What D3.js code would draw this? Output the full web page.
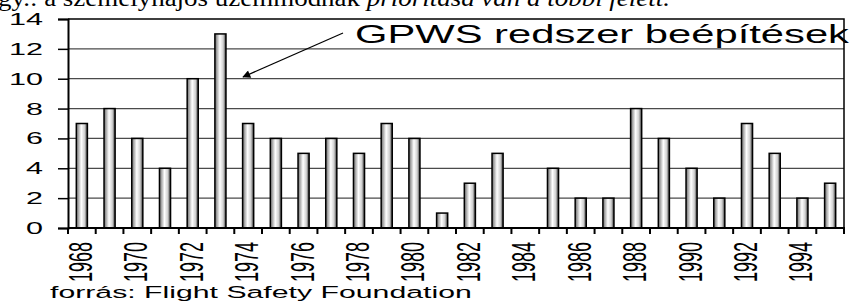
<!DOCTYPE html>
<html>
<head>
<meta charset="utf-8">
<script src="https://cdn.jsdelivr.net/npm/d3@7"></script>
<style>
  html, body { margin: 0; padding: 0; background: #fff; }
  svg { display: block; }
</style>
</head>
<body>
<svg id="chart" width="855" height="303"></svg>
<script>
// GPWS installs per year
const years = d3.range(1968, 1996);
const values = [7, 8, 6, 4, 10, 13, 7, 6, 5, 6, 5, 7, 6, 1, 3, 5, 0, 4, 2, 2, 8, 6, 4, 2, 7, 5, 2, 3];
const yTicks = [0, 2, 4, 6, 8, 10, 12, 14];
const xLabels = d3.range(1968, 1996, 2);
const headerUpright = "gy.: a személyhajós üzemmódnak ";
const headerItalic = "prioritása van a többi felett.";
const noteText = "GPWS redszer beépítések";
const sourceText = "forrás: Flight Safety Foundation";

const svg = d3.select("#chart");
const sans = "Liberation Sans, Arial, sans-serif";
const stretch = 1.8; // the original picture is squeezed horizontally

const plotLeft = 68, plotRight = 844, plotTop = 19, plotBottom = 228;

const x = d3.scaleBand()
  .domain(years)
  .range([plotLeft, plotRight])
  .paddingInner(0.6)
  .paddingOuter(0.3);

const y = d3.scaleLinear().domain([0, 14]).range([plotBottom, plotTop]);

const step = x.step();

// bar gradient (cylinder look)
const defs = svg.append("defs");
const grad = defs.append("linearGradient")
  .attr("id", "barGrad").attr("x1", "0%").attr("x2", "100%");
grad.append("stop").attr("offset", "0%").attr("stop-color", "#6a6a6a");
grad.append("stop").attr("offset", "45%").attr("stop-color", "#ffffff");
grad.append("stop").attr("offset", "75%").attr("stop-color", "#d0d0d0");
grad.append("stop").attr("offset", "100%").attr("stop-color", "#3a3a3a");

// header text, clipped at the top like in the source page
const header = svg.append("text")
  .attr("x", -2).attr("y", 6)
  .attr("textLength", 672)
  .attr("lengthAdjust", "spacingAndGlyphs")
  .style("font-family", "Liberation Serif, Times New Roman, serif")
  .style("font-size", "23px");
header.append("tspan").text(headerUpright);
header.append("tspan").style("font-style", "italic").text(headerItalic);

// gridlines
svg.append("g")
  .selectAll("line")
  .data(yTicks.filter((d) => d > 0 && d < 14))
  .join("line")
  .attr("x1", plotLeft).attr("x2", plotRight)
  .attr("y1", (d) => y(d)).attr("y2", (d) => y(d))
  .attr("stroke", "#4a4a4a").attr("stroke-width", 1.2);

// top and right border
svg.append("path")
  .attr("d", `M${plotLeft},${y(14)}H${plotRight}V${plotBottom}`)
  .attr("fill", "none").attr("stroke", "#000").attr("stroke-width", 1.5);

// bars
svg.append("g")
  .selectAll("rect")
  .data(years.map((yr, i) => ({ yr, v: values[i] })).filter((d) => d.v > 0))
  .join("rect")
  .attr("x", (d) => x(d.yr))
  .attr("y", (d) => y(d.v))
  .attr("width", x.bandwidth())
  .attr("height", (d) => plotBottom - y(d.v))
  .attr("fill", "url(#barGrad)")
  .attr("stroke", "#000").attr("stroke-width", 1.5);

// y axis
const yAxis = svg.append("g").attr("transform", `translate(${plotLeft},0)`)
  .call(d3.axisLeft(y).tickValues(yTicks).tickSize(10).tickFormat(""));
yAxis.select(".domain").attr("stroke-width", 2);
yAxis.selectAll(".tick line").attr("stroke-width", 1.5);

svg.append("g")
  .selectAll("text")
  .data(yTicks)
  .join("text")
  .attr("transform", (d) => `translate(43,${y(d) + 6}) scale(1.85,1)`)
  .attr("text-anchor", "end")
  .style("font-family", sans)
  .style("font-size", "16.5px")
  .text((d) => d);

// x axis: ticks at category boundaries
svg.append("line")
  .attr("x1", plotLeft).attr("x2", plotRight + 1)
  .attr("y1", plotBottom).attr("y2", plotBottom)
  .attr("stroke", "#000").attr("stroke-width", 2);

const edge = (d) => (d === 1996 ? plotRight : x(d) - (step - x.bandwidth()) / 2);
svg.append("g")
  .selectAll("line")
  .data(years.concat([1996]))
  .join("line")
  .attr("x1", edge).attr("x2", edge)
  .attr("y1", plotBottom).attr("y2", plotBottom + 6)
  .attr("stroke", "#000").attr("stroke-width", 2);

svg.append("g")
  .selectAll("text")
  .data(xLabels)
  .join("text")
  .attr("transform", (d) =>
    `translate(${x(d) + x.bandwidth() / 2 + 10},242) scale(${stretch},1) rotate(-90)`)
  .attr("text-anchor", "end")
  .style("font-family", sans)
  .style("font-size", "18px")
  .text((d) => d);

// annotation
defs.append("marker")
  .attr("id", "arrow")
  .attr("viewBox", "0 0 10 10")
  .attr("refX", 9).attr("refY", 5)
  .attr("markerWidth", 11).attr("markerHeight", 8)
  .attr("markerUnits", "userSpaceOnUse")
  .attr("orient", "auto")
  .append("path").attr("d", "M0,0L10,5L0,10z").attr("fill", "#000");

svg.append("line")
  .attr("x1", 343).attr("y1", 33)
  .attr("x2", 243).attr("y2", 77)
  .attr("stroke", "#000").attr("stroke-width", 1.2)
  .attr("marker-end", "url(#arrow)");

svg.append("text")
  .attr("transform", "translate(355,43) scale(1.67,1)")
  .style("font-family", sans)
  .style("font-size", "25px")
  .text(noteText);

// source
svg.append("text")
  .attr("transform", `translate(50,298) scale(${stretch},1)`)
  .style("font-family", sans)
  .style("font-size", "16.8px")
  .text(sourceText);
</script>
</body>
</html>
